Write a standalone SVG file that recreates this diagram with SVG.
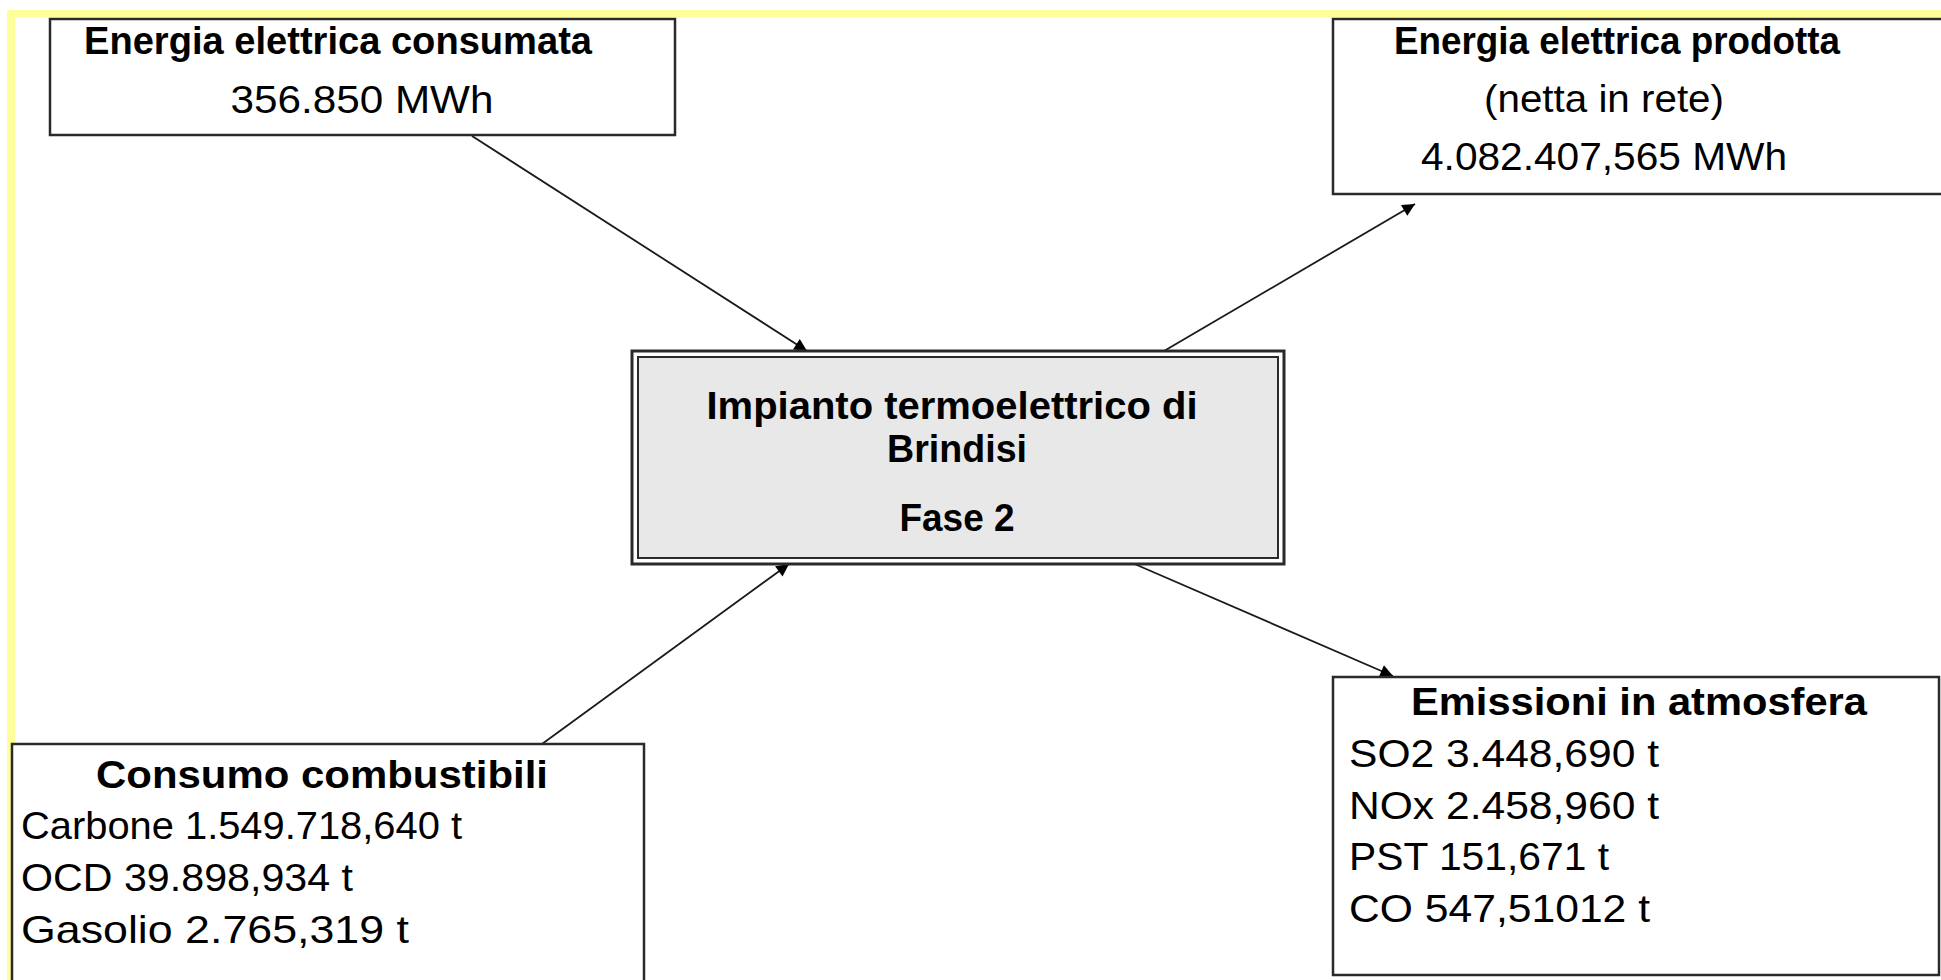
<svg xmlns="http://www.w3.org/2000/svg" width="1941" height="980" viewBox="0 0 1941 980">
<defs>
<style>
.box{fill:#fff;stroke:#2a2a2a;stroke-width:2.5}
.t{font-family:"Liberation Sans",Arial,sans-serif;font-size:39px;fill:#000}
.b{font-weight:bold}
.c{text-anchor:middle}
.conn{stroke:#1a1a1a;stroke-width:1.8;fill:none;marker-end:url(#arr)}
</style>
<marker id="arr" viewBox="0 0 10 10" refX="10" refY="5" markerWidth="8.5" markerHeight="7" markerUnits="strokeWidth" orient="auto">
<path d="M0,0 L10,5 L0,10 z" fill="#000"/>
</marker>
</defs>
<rect width="1941" height="980" fill="#fff"/>
<rect x="7" y="10" width="1934" height="7" fill="#ffff99"/>
<rect x="7" y="10" width="8" height="970" fill="#ffff99"/>

<g id="connectors">
<line class="conn" x1="472" y1="136" x2="807" y2="351"/>
<line class="conn" x1="1164" y1="351" x2="1415" y2="204"/>
<line class="conn" x1="542" y1="744" x2="789" y2="564"/>
<line class="conn" x1="1130" y1="562" x2="1393" y2="676"/>
</g>

<g id="node-consumata">
<rect class="box" x="50" y="19" width="625" height="116"/>
<text class="t b c" x="338" y="54" textLength="508" lengthAdjust="spacingAndGlyphs">Energia elettrica consumata</text>
<text class="t c" x="362" y="113" textLength="263" lengthAdjust="spacingAndGlyphs">356.850 MWh</text>
</g>

<g id="node-prodotta">
<rect class="box" x="1333" y="19" width="620" height="175"/>
<text class="t b c" x="1617" y="54" textLength="446" lengthAdjust="spacingAndGlyphs">Energia elettrica prodotta</text>
<text class="t c" x="1604" y="112" textLength="240" lengthAdjust="spacingAndGlyphs">(netta in rete)</text>
<text class="t c" x="1604" y="170" textLength="366" lengthAdjust="spacingAndGlyphs">4.082.407,565 MWh</text>
</g>

<g id="node-impianto">
<rect x="632" y="351" width="652" height="213" fill="#fff" stroke="#2a2a2a" stroke-width="3"/>
<rect x="638" y="357" width="640" height="201" fill="#e8e8e8" stroke="#2a2a2a" stroke-width="2"/>
<text class="t b c" x="952" y="419" textLength="491" lengthAdjust="spacingAndGlyphs">Impianto termoelettrico di</text>
<text class="t b c" x="957" y="462" textLength="140" lengthAdjust="spacingAndGlyphs">Brindisi</text>
<text class="t b c" x="957" y="531" textLength="115" lengthAdjust="spacingAndGlyphs">Fase 2</text>
</g>

<g id="node-combustibili">
<rect class="box" x="12" y="744" width="632" height="260"/>
<text class="t b c" x="322" y="788" textLength="452" lengthAdjust="spacingAndGlyphs">Consumo combustibili</text>
<text class="t" x="21" y="839" textLength="441" lengthAdjust="spacingAndGlyphs">Carbone 1.549.718,640 t</text>
<text class="t" x="21" y="891" textLength="332" lengthAdjust="spacingAndGlyphs">OCD 39.898,934 t</text>
<text class="t" x="21" y="943" textLength="388" lengthAdjust="spacingAndGlyphs">Gasolio 2.765,319 t</text>
</g>

<g id="node-emissioni">
<rect class="box" x="1333" y="677" width="606" height="298"/>
<text class="t b c" x="1639" y="715" textLength="456" lengthAdjust="spacingAndGlyphs">Emissioni in atmosfera</text>
<text class="t" x="1349" y="767" textLength="310" lengthAdjust="spacingAndGlyphs">SO2 3.448,690 t</text>
<text class="t" x="1349" y="819" textLength="310" lengthAdjust="spacingAndGlyphs">NOx 2.458,960 t</text>
<text class="t" x="1349" y="870" textLength="260" lengthAdjust="spacingAndGlyphs">PST 151,671 t</text>
<text class="t" x="1349" y="922" textLength="301" lengthAdjust="spacingAndGlyphs">CO 547,51012 t</text>
</g>
</svg>
